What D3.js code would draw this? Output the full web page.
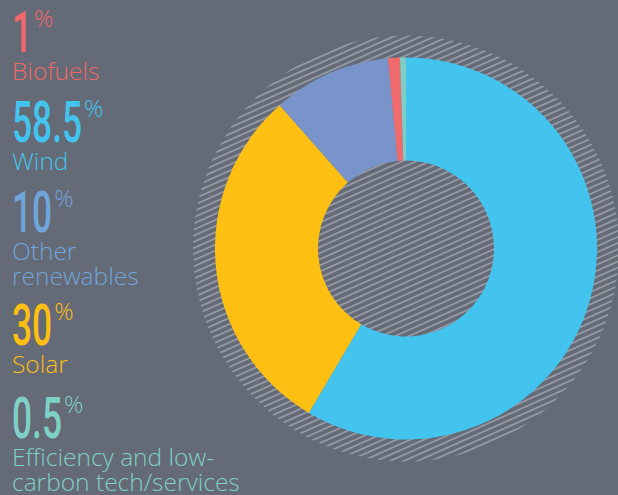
<!DOCTYPE html>
<html>
<head>
<meta charset="utf-8">
<script src="https://cdn.jsdelivr.net/npm/d3@7"></script>
<style>
  html, body { margin: 0; padding: 0; background: #646a76; }
  svg { display: block; }
</style>
</head>
<body>
<div id="chart"></div>
<script>
var categories = ["Wind", "Solar", "Other renewables", "Biofuels", "Efficiency and low-carbon tech/services"];
var shares = [58.5, 30, 10, 1, 0.5];
var shareLabels = ["58.5", "30", "10", "1", "0.5"];
var sliceColors = ["#42c4ee", "#fdbf12", "#7894cb", "#ef6b6e", "#7fcdc4"];
var textColors = ["#42c4ee", "#fdbf12", "#70a5dc", "#f0686a", "#7fd0c5"];

// legend order as stacked down the left side
var legendOrder = ["Biofuels", "Wind", "Other renewables", "Solar", "Efficiency and low-carbon tech/services"];
var legendLines = {
  "Biofuels": ["Biofuels"],
  "Wind": ["Wind"],
  "Other renewables": ["Other", "renewables"],
  "Solar": ["Solar"],
  "Efficiency and low-carbon tech/services": ["Efficiency and low-", "carbon tech/services"]
};

var width = 618, height = 495;
var cx = 406, cy = 248.5;
var outerR = 191, innerR = 88, hatchR = 213;

var svg = d3.select("#chart").append("svg")
  .attr("width", width)
  .attr("height", height);

svg.append("rect")
  .attr("width", width)
  .attr("height", height)
  .attr("fill", "#646a76");

var defs = svg.append("defs");
var pat = defs.append("pattern")
  .attr("id", "hatch")
  .attr("patternUnits", "userSpaceOnUse")
  .attr("width", 5.6)
  .attr("height", 5.6)
  .attr("patternTransform", "rotate(-24)");
pat.append("line")
  .attr("x1", 0).attr("y1", 2.8)
  .attr("x2", 5.6).attr("y2", 2.8)
  .attr("stroke", "#b4b8c0")
  .attr("stroke-width", 1.1);

var g = svg.append("g")
  .attr("transform", "translate(" + cx + "," + cy + ")");

g.append("circle")
  .attr("r", hatchR)
  .attr("fill", "url(#hatch)");

var data = categories.map(function (c, i) {
  return { name: c, value: shares[i], color: sliceColors[i] };
});

var pie = d3.pie()
  .sort(null)
  .value(function (d) { return d.value; });

var arc = d3.arc()
  .innerRadius(innerR)
  .outerRadius(outerR);

g.selectAll("path")
  .data(pie(data))
  .enter()
  .append("path")
  .attr("d", arc)
  .attr("fill", function (d) { return d.data.color; });

// left legend
var tops = [52, 142, 232, 345, 438];
var leg = svg.append("g");

legendOrder.forEach(function (name, k) {
  var i = categories.indexOf(name);
  var base = tops[k];
  var col = textColors[i];

  var num = leg.append("text")
    .attr("transform", "translate(12," + base + ") scale(0.62,1)")
    .attr("font-family", "Roboto")
    .attr("font-weight", 500)
    .attr("font-size", 57)
    .attr("fill", col)
    .text(shareLabels[i]);

  var w = num.node().getComputedTextLength() * 0.62;

  leg.append("text")
    .attr("x", 12 + w + 2)
    .attr("y", base - 25)
    .attr("font-family", "Open Sans")
    .attr("font-weight", 300)
    .attr("font-size", 24)
    .attr("fill", col)
    .text("%");

  legendLines[name].forEach(function (line, j) {
    leg.append("text")
      .attr("x", 12)
      .attr("y", base + 28 + j * 24.5)
      .attr("font-family", "Open Sans")
      .attr("font-weight", 300)
      .attr("font-size", 24.5)
      .attr("fill", col)
      .text(line);
  });
});
</script>
</body>
</html>
